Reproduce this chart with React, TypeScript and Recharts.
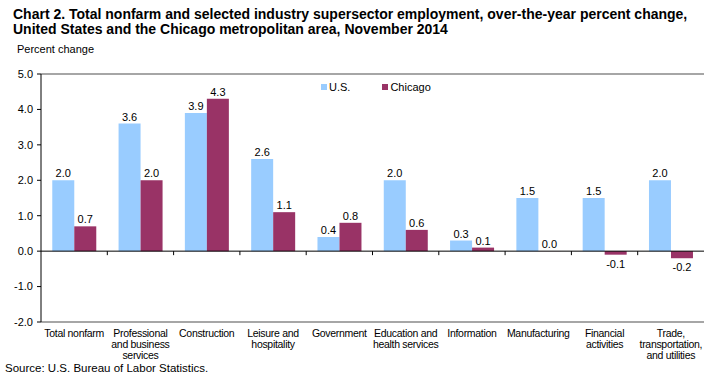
import { BarChart, Bar, XAxis, YAxis, CartesianGrid, ReferenceLine, LabelList } from "recharts"

const categories = [
  "Total nonfarm",
  "Professional\nand business\nservices",
  "Construction",
  "Leisure and\nhospitality",
  "Government",
  "Education and\nhealth services",
  "Information",
  "Manufacturing",
  "Financial\nactivities",
  "Trade,\ntransportation,\nand utilities",
]
const usValues = [2.0, 3.6, 3.9, 2.6, 0.4, 2.0, 0.3, 1.5, 1.5, 2.0]
const chicagoValues = [0.7, 2.0, 4.3, 1.1, 0.8, 0.6, 0.1, 0.0, -0.1, -0.2]
const yTicks = [-2, -1, 0, 1, 2, 3, 4, 5]

const US_COLOR = "#99ccff"
const CHI_COLOR = "#993366"
const FONT = "Arial, 'Liberation Sans', sans-serif"

const data = categories.map((name, i) => ({ name, us: usValues[i], chicago: chicagoValues[i] }))

function CategoryTick(props: any) {
  const { x, y, payload } = props
  const lines = String(payload.value).split("\n")
  return (
    <text x={x} y={y} textAnchor="middle" fontSize={10.5} letterSpacing={-0.3} fill="#000" fontFamily={FONT}>
      {lines.map((line, i) => (
        <tspan key={i} x={x} dy={i === 0 ? "0.71em" : 11}>
          {line}
        </tspan>
      ))}
    </text>
  )
}

function ValueLabel(props: any) {
  const { x, y, width, height, value } = props
  const top = Math.min(y, y + height)
  const bottom = Math.max(y, y + height)
  const ty = value >= 0 ? top - 3 : bottom + 13
  return (
    <text x={x + width / 2} y={ty} textAnchor="middle" fontSize={11} fill="#000" fontFamily={FONT}>
      {Number(value).toFixed(1)}
    </text>
  )
}

// zero line with small tick marks between the categories
function ZeroLine(props: any) {
  const { x1, y1, x2, y2 } = props
  const step = (x2 - x1) / categories.length
  const marks = []
  for (let i = 1; i < categories.length; i++) {
    const mx = x1 + step * i
    marks.push(<line key={i} x1={mx} y1={y1} x2={mx} y2={y1 + 4} stroke="#000" strokeWidth={1} />)
  }
  return (
    <g>
      <line x1={x1} y1={y1} x2={x2} y2={y2} stroke="#000" strokeWidth={1} />
      {marks}
    </g>
  )
}

function LegendBox() {
  const item = (color: string, label: string, gap: number) => (
    <div style={{ display: "flex", alignItems: "center", marginRight: gap }}>
      <div style={{ width: 6, height: 6, background: color, marginRight: 2 }} />
      <span style={{ fontSize: 11, fontFamily: FONT, color: "#000" }}>{label}</span>
    </div>
  )
  return (
    <div style={{ position: "absolute", left: 321, top: 81, display: "flex", zIndex: 2 }}>
      {item(US_COLOR, "U.S.", 32)}
      {item(CHI_COLOR, "Chicago", 0)}
    </div>
  )
}

export default function App() {
  return (
    <div style={{ position: "absolute", left: 0, top: 0, width: 709, height: 381, background: "#fff", fontFamily: FONT }}>
      <div style={{ position: "absolute", left: 13, top: 7, fontSize: 14, fontWeight: "bold", lineHeight: "14.5px", whiteSpace: "nowrap" }}>
        Chart 2. Total nonfarm and selected industry supersector employment, over-the-year percent change,
        <br />
        United States and the Chicago metropolitan area, November 2014
      </div>
      <div style={{ position: "absolute", left: 17, top: 43, fontSize: 11 }}>Percent change</div>
      <div style={{ position: "absolute", left: 5, top: 362, fontSize: 11.5 }}>Source: U.S. Bureau of Labor Statistics.</div>
      <LegendBox />
      <BarChart
        width={709}
        height={381}
        data={data}
        margin={{ top: 74, right: 5, left: 0, bottom: 0 }}
        barCategoryGap="17%"
        barGap={0}
      >
        <CartesianGrid horizontal vertical={false} stroke="#999" />
        <XAxis
          dataKey="name"
          interval={0}
          axisLine={false}
          tickLine={false}
          tickSize={6}
          height={59}
          tick={<CategoryTick />}
        />
        <YAxis
          yAxisId="left"
          domain={[-2, 5]}
          ticks={yTicks}
          interval={0}
          width={41}
          tickFormatter={(v: number) => v.toFixed(1)}
          axisLine={{ stroke: "#000" }}
          tickLine={{ stroke: "#000" }}
          tickSize={4}
          tickMargin={4}
          tick={{ fontSize: 11, fill: "#000", fontFamily: FONT }}
        />
        <YAxis yAxisId="right" orientation="right" width={0} tick={false} axisLine={{ stroke: "#808080" }} tickLine={false} />
        <Bar yAxisId="left" dataKey="us" name="U.S." fill={US_COLOR} minPointSize={0.1} isAnimationActive={false}>
          <LabelList dataKey="us" content={<ValueLabel />} />
        </Bar>
        <Bar yAxisId="left" dataKey="chicago" name="Chicago" fill={CHI_COLOR} minPointSize={0.1} isAnimationActive={false}>
          <LabelList dataKey="chicago" content={<ValueLabel />} />
        </Bar>
        <ReferenceLine yAxisId="left" y={5} stroke="#808080" />
        <ReferenceLine yAxisId="left" y={-2} stroke="#808080" />
        <ReferenceLine yAxisId="left" y={0} shape={<ZeroLine />} />
      </BarChart>
    </div>
  )
}
